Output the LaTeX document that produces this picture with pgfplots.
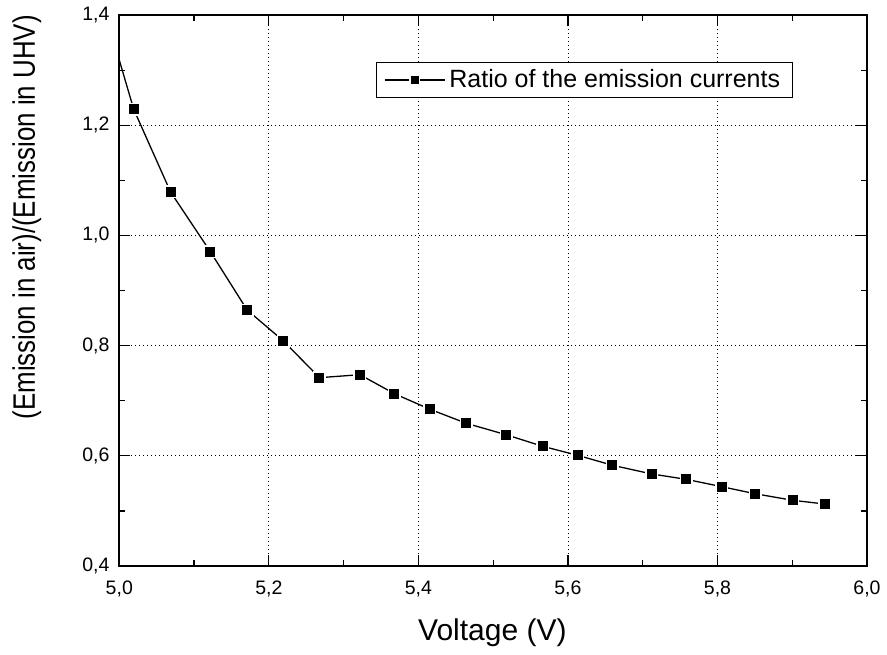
\documentclass[border=0pt]{standalone}
\usepackage{fontspec}
\setmainfont{Liberation Sans}
\usepackage{graphicx}
\usepackage{pgfplots}
\pgfplotsset{compat=1.18}
\begin{document}
\begin{tikzpicture}
\begin{axis}[
  scale only axis,
  width=373.85pt, height=275.5pt,
  xmin=5.0, xmax=6.0, ymin=0.4, ymax=1.4,
  xtick={5,5.2,5.4,5.6,5.8,6},
  ytick={0.4,0.6,0.8,1.0,1.2,1.4},
  minor x tick num=1, minor y tick num=1,
  tick align=inside,
  major tick length=5.5pt, minor tick length=3pt,
  axis line style={line width=1.1pt},
  every tick/.style={black, line width=0.6pt},
  grid=major,
  major grid style={black, line width=0.4pt, dash pattern=on 0.5pt off 1.5pt},
  /pgf/number format/assume math mode=true,
  /pgf/number format/use comma,
  /pgf/number format/fixed,
  /pgf/number format/fixed zerofill,
  /pgf/number format/precision=1,
  tick label style={font=\fontsize{9.75}{11}\selectfont},
  xticklabel style={yshift=-4pt},
  yticklabel style={xshift=-1.4pt},
  xlabel={Voltage (V)},
  ylabel={\scalebox{0.835}[1]{(Emission in air)/(Emission in UHV)}},
  xlabel style={at={(axis description cs:0.499,-0.1207)}, anchor=center, font=\fontsize{15}{18}\selectfont},
  ylabel style={at={(axis description cs:-0.1236,0.633)}, anchor=center, font=\fontsize{15.5}{18}\selectfont},
  legend style={at={(0.9005,0.9147)}, anchor=north east, draw=black, line width=0.5pt,
    font=\fontsize{12.5}{14}\selectfont, inner xsep=4pt, inner ysep=1.5pt, cells={anchor=west}},
  legend image code/.code={
    \draw[black, line width=0.65pt] (0pt,0pt) -- (30pt,0pt);
    \filldraw[fill=black, draw=white, line width=0.6pt] (12.6pt,-2.4pt) rectangle (17.4pt,2.4pt);
  },
]
\coordinate (ll) at (rel axis cs:0,0);
\coordinate (ur) at (rel axis cs:1,1);
\addplot[black, line width=0.65pt, mark=square*, mark size=2.875pt,
  mark options={fill=black, draw=white, line width=0.75pt},
  mark indices={1,...,20}]
  coordinates {
  (4.97, 1.457)
  (5.0193, 1.2288)
  (5.0686, 1.0788)
  (5.1218, 0.9704)
  (5.1710, 0.8646)
  (5.2196, 0.8083)
  (5.2677, 0.7418)
  (5.3218, 0.7472)
  (5.3680, 0.7127)
  (5.4155, 0.6844)
  (5.4641, 0.6590)
  (5.5172, 0.6383)
  (5.5663, 0.6172)
  (5.6131, 0.6009)
  (5.6596, 0.5828)
  (5.7122, 0.5670)
  (5.7583, 0.5573)
  (5.8060, 0.5439)
  (5.8502, 0.5312)
  (5.9005, 0.5193)
  (5.9434, 0.5125)
  };
\addlegendentry{Ratio of the emission currents}
\end{axis}
\pgfresetboundingbox
\path ([shift={(-59.65pt,-44pt)}]ll) rectangle ([shift={(10pt,7.5pt)}]ur);
\end{tikzpicture}
\end{document}
